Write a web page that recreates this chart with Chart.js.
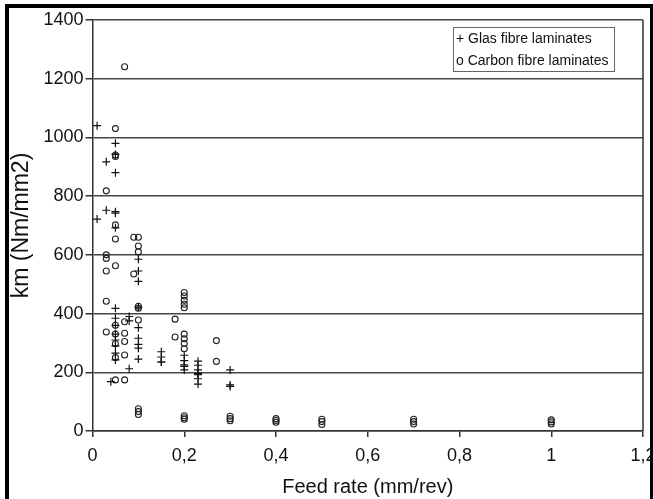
<!DOCTYPE html>
<html><head><meta charset="utf-8">
<script src="https://cdn.jsdelivr.net/npm/chart.js@4/dist/chart.umd.min.js"></script>
<style>html,body{margin:0;padding:0;background:#fff;}#wrap{position:relative;width:653px;height:499px;}</style>
</head><body><div id="wrap"><canvas id="c" width="653" height="499"></canvas></div>
<script>
const seriesNames = ['Glas fibre laminates', 'Carbon fibre laminates'];
const legendSymbols = ['+', 'o'];

const glassX = [0.01,0.01, 0.03,0.03, 0.04,
  0.05,0.05,0.05,0.05,0.05,0.05,0.05,0.05,0.05,0.05,0.05,0.05,0.05,0.05,
  0.08,0.08,0.08,
  0.1,0.1,0.1,0.1,0.1,0.1,0.1,0.1,0.1,
  0.15,0.15,0.15,0.15,
  0.2,0.2,0.2,0.2,0.2,
  0.23,0.23,0.23,0.23,0.23,0.23,0.23,
  0.3,0.3,0.3];
const glassY = [1040,722, 917,752, 168,
  980,942,880,747,742,692,418,384,360,330,310,290,265,242,212,
  390,375,316,
  585,545,510,422,352,295,282,245,235,
  270,252,235,220,
  258,240,225,208,196,
  238,224,208,192,178,160,152,
  208,157,134];

const carbonX = [0.03,0.03,0.03,0.03,0.03,0.03,
  0.05,0.05,0.05,0.05,0.05,0.05,0.05,0.05,0.05,0.05,0.05,
  0.07,0.07,0.07,0.07,0.07,0.07,
  0.09,0.09,
  0.1,0.1,0.1,0.1,0.1,0.1,0.1,0.1,0.1,
  0.18,0.18,
  0.2,0.2,0.2,0.2,0.2,0.2,0.2,0.2,0.2,0.2,0.2,0.2,
  0.27,0.27,
  0.3,0.3,0.3,
  0.4,0.4,0.4,
  0.5,0.5,0.5,
  0.7,0.7,0.7,
  1,1,1];
const carbonY = [818,600,588,545,442,337,
  1030,940,935,702,654,563,360,330,297,250,174,
  1241,372,333,305,259,174,
  660,535,
  660,630,610,425,418,378,76,66,56,
  381,320,
  472,460,445,432,420,330,314,298,280,52,45,40,
  308,237,
  50,42,35,
  42,36,30,
  40,32,22,
  40,32,24,
  38,31,24];

const xTickValues = [0, 0.2, 0.4, 0.6, 0.8, 1, 1.2];
const xTickLabels = ['0', '0,2', '0,4', '0,6', '0,8', '1', '1,2'];
const yTickValues = [0, 200, 400, 600, 800, 1000, 1200, 1400];
const yTickLabels = ['0', '200', '400', '600', '800', '1000', '1200', '1400'];
const xTitle = 'Feed rate (mm/rev)';
const yTitle = 'km (Nm/mm2)';

const toPts = (xs, ys) => xs.map((x, i) => ({x: x, y: ys[i]}));
const FONT = '"Liberation Sans", Arial, sans-serif';

const decor = {
  id: 'decor',
  afterDraw(chart) {
    const ctx = chart.ctx, a = chart.chartArea;
    ctx.save();
    ctx.strokeStyle = '#333'; ctx.lineWidth = 1.5;
    ctx.beginPath(); ctx.moveTo(a.right, a.top); ctx.lineTo(a.right, a.bottom); ctx.stroke();
    const lx = a.right - 190, ly = a.top + 7, lw = 161, lh = 44;
    ctx.fillStyle = '#fff'; ctx.fillRect(lx, ly, lw, lh);
    ctx.strokeStyle = '#666'; ctx.lineWidth = 1;
    ctx.strokeRect(lx + 0.5, ly + 0.5, lw, lh);
    ctx.fillStyle = '#111'; ctx.font = '14px ' + FONT; ctx.textBaseline = 'middle'; ctx.textAlign = 'left';
    ctx.fillText(legendSymbols[0] + ' ' + seriesNames[0], lx + 3, ly + 12);
    ctx.fillText(legendSymbols[1] + ' ' + seriesNames[1], lx + 3, ly + 34);
    ctx.fillStyle = '#000';
    ctx.fillRect(5, 4, 648, 4);
    ctx.fillRect(5, 4, 4, 495);
    ctx.fillRect(650, 4, 3, 495);
    ctx.restore();
  }
};

new Chart(document.getElementById('c'), {
  type: 'scatter',
  data: {
    datasets: [
      {label: seriesNames[0], data: toPts(glassX, glassY), pointStyle: 'cross', pointRadius: 4,
       borderColor: '#111', backgroundColor: '#111', borderWidth: 1.2, showLine: false},
      {label: seriesNames[1], data: toPts(carbonX, carbonY), pointStyle: 'circle', pointRadius: 3,
       borderColor: '#222', backgroundColor: 'rgba(0,0,0,0)', borderWidth: 1.1, showLine: false}
    ]
  },
  options: {
    responsive: false, animation: false,
    layout: {padding: {left: 8, top: 20, right: 10, bottom: 0}},
    plugins: {legend: {display: false}, tooltip: {enabled: false}},
    scales: {
      x: {
        type: 'linear', min: 0, max: 1.2,
        afterBuildTicks: s => { s.ticks = xTickValues.map(v => ({value: v})); },
        ticks: {callback: (v, i) => xTickLabels[i], font: {size: 18, family: FONT}, color: '#111', padding: 8, maxRotation: 0, autoSkip: false},
        grid: {drawOnChartArea: false, drawTicks: true, tickLength: 6, color: '#333', lineWidth: 1.5},
        border: {display: true, color: '#333', width: 1.5},
        title: {display: true, text: xTitle, font: {size: 20, family: FONT}, color: '#111', padding: 0},
        afterFit: s => { s.height = 68; s.paddingRight = 0; s.paddingLeft = 0; }
      },
      y: {
        min: 0, max: 1400,
        afterBuildTicks: s => { s.ticks = yTickValues.map(v => ({value: v})); },
        ticks: {callback: (v, i) => yTickLabels[i], font: {size: 18, family: FONT}, color: '#111', padding: 2},
        grid: {color: '#444', lineWidth: 1.5, tickLength: 7, tickColor: '#333'},
        border: {display: true, color: '#333', width: 1.5},
        title: {display: true, text: yTitle, font: {size: 23, family: FONT}, color: '#111', padding: 0},
        afterFit: s => { s.width = 84.5; s.paddingTop = 0; s.paddingBottom = 0; }
      }
    }
  },
  plugins: [decor]
});
</script></body></html>
